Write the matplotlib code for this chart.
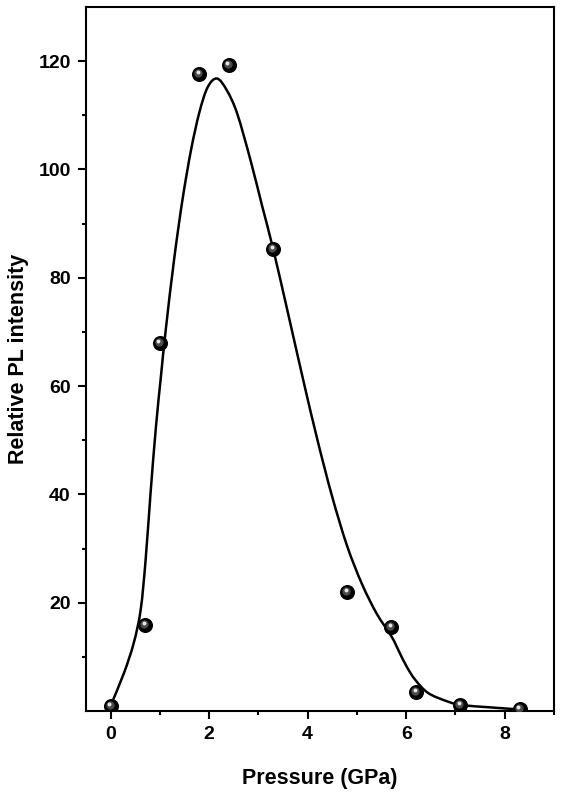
import numpy as np
import matplotlib
matplotlib.use("Agg")
import matplotlib.pyplot as plt
import matplotlib.transforms as mtransforms
from matplotlib.path import Path
from matplotlib.patches import PathPatch
from matplotlib.ticker import MultipleLocator

plt.rcParams['font.family'] = ['Liberation Sans', 'DejaVu Sans']
plt.rcParams['font.weight'] = 'bold'

# measured points
pressure = [0.0, 0.7, 1.0, 1.8, 2.4, 3.3, 4.8, 5.7, 6.2, 7.1, 8.3]
intensity = [1.0, 15.8, 68.0, 117.6, 119.3, 85.3, 22.0, 15.6, 3.6, 1.2, 0.4]

# guide curve
curve_x = [0.0, 0.27, 0.47, 0.61, 0.71, 0.81, 0.92, 1.02, 1.12, 1.29, 1.46,
           1.63, 1.80, 1.97, 2.16, 2.36, 2.57, 2.84, 3.08, 3.30, 3.60, 3.90,
           4.20, 4.50, 4.80, 5.10, 5.40, 5.70, 5.87, 6.01, 6.18, 6.45, 6.86,
           7.13, 7.67, 8.28]
curve_y = [1.0, 7.0, 12.6, 18.7, 27.9, 40.2, 52.5, 61.7, 70.5, 83.5, 94.5,
           103.5, 110.5, 115.2, 116.8, 114.6, 110.3, 101.7, 93.1, 85.3, 73.5, 61.5,
           50.0, 39.5, 30.5, 23.5, 18.0, 13.8, 10.7, 8.2, 5.8, 3.3, 1.7,
           1.1, 0.7, 0.3]


def smooth_path(xs, ys):
    # catmull-rom through the read points, as cubic bezier segments
    p = np.column_stack([xs, ys])
    verts = [p[0]]
    codes = [Path.MOVETO]
    for i in range(len(p) - 1):
        p0 = p[i - 1] if i > 0 else p[i]
        p1, p2 = p[i], p[i + 1]
        p3 = p[i + 2] if i + 2 < len(p) else p[i + 1]
        verts += [p1 + (p2 - p0) / 6.0, p2 - (p3 - p1) / 6.0, p2]
        codes += [Path.CURVE4] * 3
    return Path(verts, codes)


fig = plt.figure(figsize=(5.61, 7.99), dpi=100)
ax = fig.add_axes([0.1533, 0.1101, 0.8342, 0.8811])

ax.add_patch(PathPatch(smooth_path(curve_x, curve_y), facecolor='none',
                       edgecolor='black', lw=1.8, zorder=2))

# shaded "sphere" markers
ax.plot(pressure, intensity, 'o', ms=9.8, mfc='black', mec='black', zorder=3)
off1 = mtransforms.ScaledTranslation(-1.0 / 100, 1.0 / 100, fig.dpi_scale_trans)
ax.plot(pressure, intensity, 'o', ms=6.0, mfc='#4a4a4a', mec='none', zorder=4,
        transform=ax.transData + off1)
off2 = mtransforms.ScaledTranslation(-1.5 / 100, 2.0 / 100, fig.dpi_scale_trans)
ax.plot(pressure, intensity, 'o', ms=2.8, mfc='#e6e6e6', mec='none', zorder=5,
        transform=ax.transData + off2)

ax.set_xlim(-0.5, 9)
ax.set_ylim(0, 130)
ax.xaxis.set_major_locator(MultipleLocator(2))
ax.xaxis.set_minor_locator(MultipleLocator(1))
ax.set_yticks([20, 40, 60, 80, 100, 120])
ax.set_yticks([10, 30, 50, 70, 90, 110], minor=True)

for s in ax.spines.values():
    s.set_linewidth(1.5)
ax.tick_params(which='major', direction='out', length=6, width=1.5,
               labelsize=14, pad=5)
ax.tick_params(which='minor', direction='out', length=3, width=1.5)
ax.tick_params(top=False, right=False)

ax.set_xlabel('Pressure (GPa)', fontsize=15.5, fontweight='bold', labelpad=18)
ax.set_ylabel('Relative PL intensity', fontsize=15.5, fontweight='bold', labelpad=7)

fig.savefig('out.png', dpi=100)
